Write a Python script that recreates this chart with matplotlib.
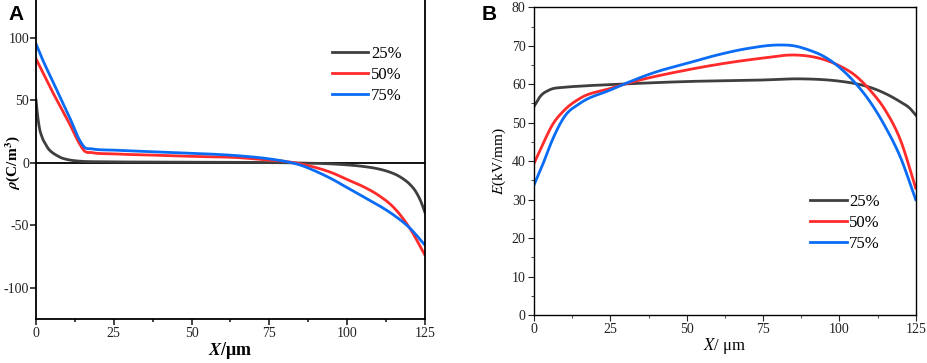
import numpy as np
import matplotlib
matplotlib.use("Agg")
import matplotlib.pyplot as plt
from matplotlib.ticker import MultipleLocator

plt.rcParams["font.family"] = ["Liberation Serif", "DejaVu Serif"]
plt.rcParams["mathtext.fontset"] = "stix"
plt.rcParams["axes.unicode_minus"] = False

LABELS = ["25%", "50%", "75%"]
COLORS = ["#3f3f3f", "#ff2a2a", "#0a6cf5"]

# panel A: space charge density rho (C/m^3) vs X (um)
rho_x = [
    [0, 0.5, 1, 2, 3, 4, 5, 6.5, 8, 10, 12.5, 15, 20, 30, 50, 70, 85, 95, 100,
     105, 110, 113, 116, 118, 120, 122, 124, 125],
    [0, 2, 5, 8, 11, 14, 15.5, 18, 25, 40, 50, 65, 75, 80, 85, 90, 95, 100,
     105, 110, 115, 120, 125],
    [0, 2, 5, 8, 11, 14, 15.5, 18, 25, 40, 50, 65, 75, 80, 85, 90, 95, 100,
     105, 110, 115, 120, 125],
]
rho_y = [
    [50, 38, 29, 20, 15, 11, 8.5, 6, 4, 2.5, 1.5, 1, 0.7, 0.5, 0.3, 0.2, -0.3,
     -1, -1.8, -3, -5, -7, -10, -13, -17, -23, -33, -40],
    [83, 73, 58, 44, 30, 15, 9.5, 8, 7, 5.8, 5, 4, 2, 1, -1, -4, -8, -13.5,
     -19, -26, -36, -52, -74],
    [95, 83, 67, 51, 35, 18, 12.5, 11, 10, 8.5, 7.5, 5.5, 3, 1, -2, -7,
     -13, -20, -27, -34, -42, -52, -66],
]

# panel B: electric field E (kV/mm) vs X (um)
e_x = [
    [0, 2, 5, 10, 15, 25, 50, 75, 87, 100, 105, 110, 115, 120, 123, 125],
    [0, 3, 6, 10, 15, 25, 30, 50, 75, 85, 90, 95, 100, 105, 110, 115, 120,
     125],
    [0, 3, 6, 10, 15, 25, 30, 40, 50, 60, 70, 80, 85, 90, 95, 100, 105, 110,
     115, 120, 125],
]
e_y = [
    [54.2, 56.8, 58.5, 59.2, 59.5, 59.9, 60.7, 61.1, 61.4, 60.8, 60.2, 59.2,
     57.6, 55.4, 53.8, 52],
    [39.4, 44.6, 49.4, 53.3, 56.3, 58.9, 60.1, 63.7, 66.8, 67.6, 67.3, 66.4,
     64.8, 62.4, 58.5, 53.3, 45.5, 33],
    [33.8, 39.4, 45.5, 51.6, 55, 58.5, 60.2, 63.2, 65.4, 67.6, 69.3, 70.2,
     70, 68.9, 67.2, 64.4, 60.5, 55.5, 49, 41, 30],
]


def smooth(x, y):
    # cubic hermite through the read points, just to draw them smoothly
    x = np.asarray(x, float)
    y = np.asarray(y, float)
    xs = np.linspace(x[0], x[-1], 400)
    h = np.diff(x)
    d = np.diff(y) / h
    m = np.zeros_like(y)
    m[1:-1] = (d[:-1] * h[1:] + d[1:] * h[:-1]) / (h[:-1] + h[1:])
    m[0], m[-1] = d[0], d[-1]
    idx = np.clip(np.searchsorted(x, xs) - 1, 0, len(x) - 2)
    t = (xs - x[idx]) / h[idx]
    h00 = 2 * t**3 - 3 * t**2 + 1
    h10 = t**3 - 2 * t**2 + t
    h01 = -2 * t**3 + 3 * t**2
    h11 = t**3 - t**2
    ys = (h00 * y[idx] + h10 * h[idx] * m[idx] + h01 * y[idx + 1]
          + h11 * h[idx] * m[idx + 1])
    return xs, ys


fig = plt.figure(figsize=(9.27, 3.63), dpi=100)
axA = fig.add_axes([36 / 927, 1 - 319 / 363, 389 / 927, 319 / 363])
axB = fig.add_axes([534 / 927, 1 - 315 / 363, 381.7 / 927, 307.7 / 363])

for xs, ys, c, lab in zip(rho_x, rho_y, COLORS, LABELS):
    axA.plot(*smooth(xs, ys), color=c, lw=2.0, label=lab)
axA.axhline(0, color="black", lw=1.3, zorder=1)
axA.set_xlim(0, 125)
axA.set_ylim(-125, 130)
axA.set_yticks([-100, -50, 0, 50, 100])
axA.xaxis.set_major_locator(MultipleLocator(25))
axA.xaxis.set_minor_locator(MultipleLocator(12.5))
axA.spines["top"].set_visible(False)
for s in ("left", "bottom", "right"):
    axA.spines[s].set_linewidth(1.3)
axA.tick_params(which="both", direction="out", labelsize=10, colors="#222222",
                width=1.2, pad=2)
axA.tick_params(axis="y", pad=1)
axA.tick_params(which="major", length=4)
axA.tick_params(which="minor", length=2.5)
axA.set_xlabel(r"$\boldsymbol{X}$/μm", fontsize=13, fontweight="bold",
               labelpad=0)
axA.set_ylabel(r"$\boldsymbol{\rho}$(C/m$^\mathbf{3}$)", fontsize=11,
               fontweight="bold")
axA.yaxis.set_label_coords(-0.037, 0.49)
axA.legend(loc="center", bbox_to_anchor=(0.85, 0.765), frameon=False,
           fontsize=12, handlelength=2.2, handletextpad=0.15,
           labelspacing=0.3)

for xs, ys, c, lab in zip(e_x, e_y, COLORS, LABELS):
    axB.plot(*smooth(xs, ys), color=c, lw=2.0, label=lab)
axB.set_xlim(0, 125)
axB.set_ylim(0, 80)
axB.xaxis.set_major_locator(MultipleLocator(25))
axB.xaxis.set_minor_locator(MultipleLocator(12.5))
axB.yaxis.set_major_locator(MultipleLocator(10))
axB.yaxis.set_minor_locator(MultipleLocator(5))
for s in axB.spines.values():
    s.set_linewidth(1.0)
axB.tick_params(which="both", direction="out", labelsize=10, colors="#222222",
                pad=2)
axB.tick_params(which="major", length=4)
axB.tick_params(which="minor", length=2.5)
axB.set_xlabel(r"$X$/ μm", fontsize=12, labelpad=0)
axB.set_ylabel(r"$E$(kV/mm)", fontsize=11, labelpad=3)
axB.legend(loc="center", bbox_to_anchor=(0.815, 0.299), frameon=False,
           fontsize=12, handlelength=2.2, handletextpad=0.15,
           labelspacing=0.3)

fig.text(8 / 927, 1 - 20 / 363, "A", fontsize=15, fontweight="bold",
         family="Liberation Sans")
fig.text(482 / 927, 1 - 20 / 363, "B", fontsize=15, fontweight="bold",
         family="Liberation Sans")

fig.savefig("out.png", dpi=100)
